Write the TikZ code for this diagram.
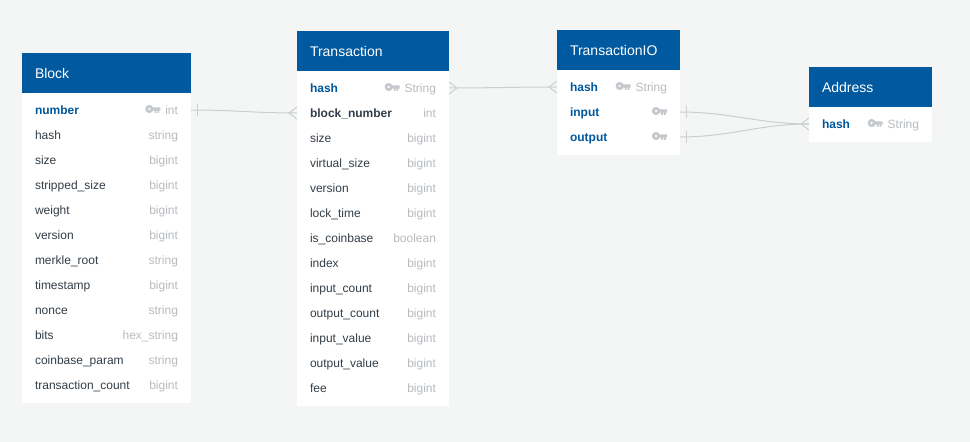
\documentclass[tikz,border=0pt]{standalone}
\usepackage{fontspec}
\setmainfont{Liberation Sans}
\usepackage{xcolor}
\usetikzlibrary{calc,positioning}
\definecolor{pagebg}{HTML}{F4F6F6}
\definecolor{headblue}{HTML}{01599F}
\definecolor{keyblue}{HTML}{01579B}
\definecolor{fielddark}{HTML}{333E48}
\definecolor{typegray}{HTML}{B7BBBF}
\definecolor{keygray}{HTML}{C5C9CD}
\definecolor{linkgray}{HTML}{CBCFCF}
\tikzset{
  tablehead/.style={fill=headblue,text=white,font=\fontsize{10.5}{12}\selectfont,anchor=north west,
    minimum height=30pt,inner sep=0pt,inner xsep=9.75pt,outer sep=0pt,align=left,text depth=0pt},
  tablebody/.style={fill=white,inner sep=0pt,outer sep=0pt},
  fieldrow/.style={inner sep=0pt,outer sep=0pt,minimum height=15pt},
  fieldname/.style={anchor=west,inner sep=0pt,outer sep=0pt,xshift=9.75pt,yshift=-0.75pt,font=\fontsize{9}{11}\selectfont,text=fielddark,text height=6.5pt,text depth=1.8pt},
  keyname/.style={fieldname,text=keyblue,font=\fontsize{9}{11}\selectfont\bfseries},
  darkname/.style={fieldname,font=\fontsize{9}{11}\selectfont\bfseries},
  fieldtype/.style={anchor=east,inner sep=0pt,outer sep=0pt,xshift=-9.75pt,yshift=-0.75pt,font=\fontsize{9}{11}\selectfont,text=typegray,text height=6.5pt,text depth=1.8pt},
  link/.style={draw=linkgray,line width=0.75pt},
}
\newcommand{\keyicon}[1]{\begin{scope}[shift={(#1)}]
  \fill[keygray,even odd rule] (-11,-2) circle (4.1) (-11,-2) circle (1.5);
  \fill[keygray] (-8,-3.7) -- (0,-3.7) -- (0,-0.3) -- (-1.2,-0.3) -- (-1.2,2) -- (-3,2) -- (-3,-0.3) -- (-4,-0.3) -- (-4,2) -- (-5.8,2) -- (-5.8,-0.3) -- (-8,-0.3) -- cycle;
\end{scope}}
\newcommand{\crowleft}[1]{\draw[link] (#1) ++(0,-6) -- ++(-8,6) -- ++(8,6);}
\newcommand{\crowright}[1]{\draw[link] (#1) ++(0,-6) -- ++(8,6) -- ++(-8,6);}
\newcommand{\tickright}[1]{\draw[link] (#1) ++(6,-6) -- ++(0,12);}
\begin{document}
\begin{tikzpicture}[x=0.75pt,y=-0.75pt]
\fill[pagebg] (0,0) rectangle (970,442);
% Block
\node[tablehead,minimum width=126.75pt,text width=107.25pt] (block) at (22,53) {Block};
\node[tablebody,minimum width=126.75pt,minimum height=232.5pt,below=0pt of block] (blockbody) {};
\foreach \nstyle/\fname/\ftype [count=\i] in {keyname/number/int,fieldname/hash/string,fieldname/size/bigint,
  fieldname/stripped\_size/bigint,fieldname/weight/bigint,fieldname/version/bigint,fieldname/merkle\_root/string,
  fieldname/timestamp/bigint,fieldname/nonce/string,fieldname/bits/hex\_string,fieldname/coinbase\_param/string,
  fieldname/transaction\_count/bigint}{
  \node[fieldrow,minimum width=126.75pt] (blockrow\i) at (106.5,{110+25*(\i-1)}) {};
  \node[\nstyle] (blockname\i) at (blockrow\i.west) {\fname};
  \node[fieldtype] (blocktype\i) at (blockrow\i.east) {\ftype};
}
\keyicon{$(blocktype1.west)+(-5,0)$}
% Transaction
\node[tablehead,minimum width=114pt,text width=94.5pt] (tx) at (297,31) {Transaction};
\node[tablebody,minimum width=114pt,minimum height=251.25pt,below=0pt of tx] (txbody) {};
\foreach \nstyle/\fname/\ftype [count=\i] in {keyname/hash/String,darkname/block\_number/int,fieldname/size/bigint,
  fieldname/virtual\_size/bigint,fieldname/version/bigint,fieldname/lock\_time/bigint,fieldname/is\_coinbase/boolean,
  fieldname/index/bigint,fieldname/input\_count/bigint,fieldname/output\_count/bigint,fieldname/input\_value/bigint,
  fieldname/output\_value/bigint,fieldname/fee/bigint}{
  \node[fieldrow,minimum width=114pt] (txrow\i) at (373,{88+25*(\i-1)}) {};
  \node[\nstyle] (txname\i) at (txrow\i.west) {\fname};
  \node[fieldtype] (txtype\i) at (txrow\i.east) {\ftype};
}
\keyicon{$(txtype1.west)+(-5,0)$}
% TransactionIO
\node[tablehead,minimum width=92.25pt,text width=72.75pt] (io) at (557,30) {TransactionIO};
\node[tablebody,minimum width=92.25pt,minimum height=63.75pt,below=0pt of io] (iobody) {};
\foreach \nstyle/\fname/\ftype [count=\i] in {keyname/hash/String,keyname/input/,keyname/output/}{
  \node[fieldrow,minimum width=92.25pt] (iorow\i) at (618.5,{87+25*(\i-1)}) {};
  \node[\nstyle] (ioname\i) at (iorow\i.west) {\fname};
  \node[fieldtype] (iotype\i) at (iorow\i.east) {\ftype};
}
\keyicon{$(iotype1.west)+(-5,0)$}
\keyicon{iotype2.east}
\keyicon{iotype3.east}
% Address
\node[tablehead,minimum width=92.25pt,text width=72.75pt] (addr) at (809,67) {Address};
\node[tablebody,minimum width=92.25pt,minimum height=26.25pt,below=0pt of addr] (addrbody) {};
\node[fieldrow,minimum width=92.25pt] (addrrow1) at (870.5,124) {};
\node[keyname] (addrname1) at (addrrow1.west) {hash};
\node[fieldtype] (addrtype1) at (addrrow1.east) {String};
\keyicon{$(addrtype1.west)+(-5,0)$}
% links
\draw[link] (blockrow1.east) to[out=0,in=180] (txrow2.west);
\draw[link] (txrow1.east) to[out=0,in=180] (iorow1.west);
\draw[link] (iorow2.east) to[out=0,in=180] (addrrow1.west);
\draw[link] (iorow3.east) to[out=0,in=180] (addrrow1.west);
\tickright{blockrow1.east}
\tickright{iorow2.east}
\tickright{iorow3.east}
\crowleft{txrow2.west}
\crowright{txrow1.east}
\crowleft{iorow1.west}
\crowleft{addrrow1.west}
\end{tikzpicture}
\end{document}
